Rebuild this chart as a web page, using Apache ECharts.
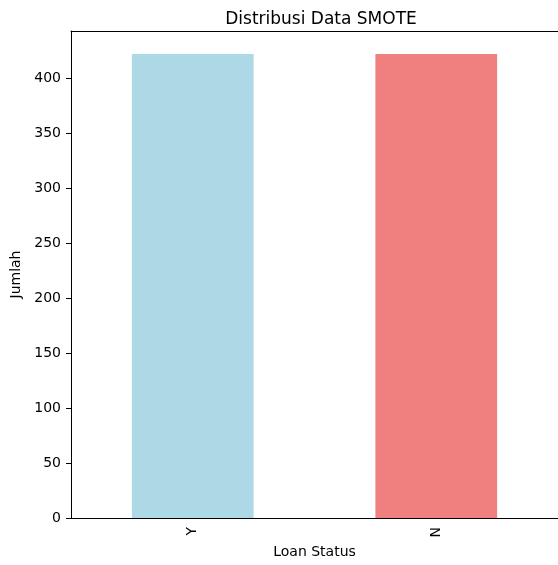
<!DOCTYPE html>
<html>
<head>
<meta charset="utf-8">
<script src="https://cdn.jsdelivr.net/npm/echarts@6/dist/echarts.min.js"></script>
<style>html,body{margin:0;padding:0;background:#fff;}#c{width:558px;height:565px;}</style>
</head>
<body>
<div id="c"></div>
<script>
const categories = ['Y', 'N'];
const counts = [422, 422];
const barColors = ['#add8e6', '#f08080'];
const yTicks = [0, 50, 100, 150, 200, 250, 300, 350, 400];

const chart = echarts.init(document.getElementById('c'), null, {renderer: 'canvas'});
const font = 'DejaVu Sans';
chart.setOption({
  animation: false,
  backgroundColor: '#fff',
  title: {
    text: 'Distribusi Data SMOTE',
    left: 316, top: 6, textAlign: 'center',
    textStyle: {fontFamily: font, fontSize: 17, fontWeight: 'normal', color: '#000'}
  },
  grid: {left: 71, top: 31, width: 489, height: 487, show: false},
  xAxis: [{
    type: 'category', data: categories,
    name: 'Loan Status', nameLocation: 'middle', nameGap: 27,
    nameTextStyle: {fontFamily: font, fontSize: 14, color: '#000'},
    axisLine: {lineStyle: {color: '#000', width: 1}},
    axisTick: {alignWithLabel: true, length: 5, lineStyle: {color: '#000'}},
    axisLabel: {rotate: 90, margin: 9, fontFamily: font, fontSize: 14, color: '#000'}
  }, {
    type: 'category', data: categories, position: 'top',
    axisLine: {show: true, lineStyle: {color: '#000', width: 1}},
    axisTick: {show: false}, axisLabel: {show: false}
  }],
  yAxis: {
    type: 'value', min: 0, max: 443, interval: 50,
    name: 'Jumlah', nameLocation: 'middle', nameGap: 46,
    nameTextStyle: {fontFamily: font, fontSize: 14, color: '#000'},
    splitLine: {show: false},
    axisLine: {show: true, lineStyle: {color: '#000', width: 1}},
    axisTick: {show: true, length: 5, lineStyle: {color: '#000'}, customValues: yTicks},
    axisLabel: {margin: 10, fontFamily: font, fontSize: 14, color: '#000', customValues: yTicks}
  },
  series: [{
    type: 'bar', barWidth: '50%', xAxisIndex: 0,
    data: counts.map((v, i) => ({value: v, itemStyle: {color: barColors[i]}}))
  }]
});
</script>
</body>
</html>
